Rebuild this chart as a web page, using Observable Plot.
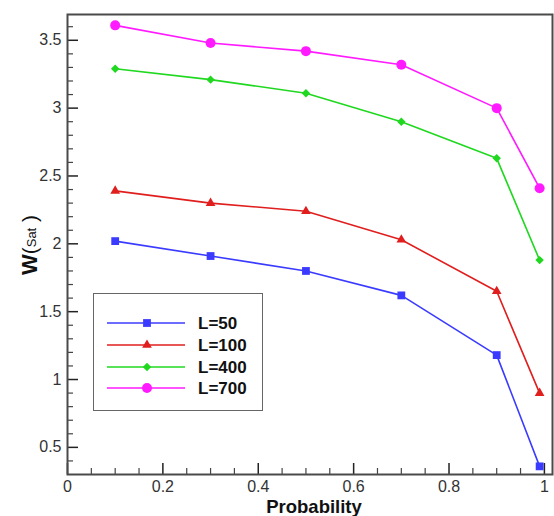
<!DOCTYPE html>
<html>
<head>
<meta charset="utf-8">
<script src="https://cdn.jsdelivr.net/npm/d3@7"></script>
<script src="https://cdn.jsdelivr.net/npm/@observablehq/plot@0.6"></script>
<style>
  html, body { margin: 0; padding: 0; background: #fff; }
  #wrap { position: relative; width: 554px; height: 516px; font-family: "Liberation Sans", Arial, sans-serif; }
  #ylabel { position: absolute; left: 30px; top: 245px; transform: translate(-50%, -50%) rotate(-90deg); white-space: nowrap; color: #111; font-family: "Liberation Sans", Arial, sans-serif; }
  #legend { position: absolute; left: 93px; top: 293px; width: 170px; height: 118px; border: 1.5px solid #666; box-sizing: border-box; background: #fff; }
</style>
</head>
<body>
<div id="wrap"></div>
<script>
// ---- data ----
const probability = [0.1, 0.3, 0.5, 0.7, 0.9, 0.99];
const seriesNames = ["L=50", "L=100", "L=400", "L=700"];
const wL50  = [2.02, 1.91, 1.80, 1.62, 1.18, 0.36];
const wL100 = [2.39, 2.30, 2.24, 2.03, 1.65, 0.90];
const wL400 = [3.29, 3.21, 3.11, 2.90, 2.63, 1.88];
const wL700 = [3.61, 3.48, 3.42, 3.32, 3.00, 2.41];
const xMajorTicks = [0, 0.2, 0.4, 0.6, 0.8, 1];
const xMajorLabels = ["0", "0.2", "0.4", "0.6", "0.8", "1"];
const xMinorTicks = [0.05,0.1,0.15,0.25,0.3,0.35,0.45,0.5,0.55,0.65,0.7,0.75,0.85,0.9,0.95];
const yMajorTicks = [0.5, 1, 1.5, 2, 2.5, 3, 3.5];
const yMajorLabels = ["0.5", "1", "1.5", "2", "2.5", "3", "3.5"];
const yMinorTicks = [0.4,0.6,0.7,0.8,0.9,1.1,1.2,1.3,1.4,1.6,1.7,1.8,1.9,2.1,2.2,2.3,2.4,2.6,2.7,2.8,2.9,3.1,3.2,3.3,3.4,3.6];

const colors = ["#3b3bff", "#e01e1e", "#1fd81f", "#ff1aff"];
const symbols = ["square", "triangle", "diamond2", "circle"];
const radii = [4.4, 3.6, 3.8, 5];

const allValues = [wL50, wL100, wL400, wL700];
const rows = [];
seriesNames.forEach((s, i) => probability.forEach((p, j) => rows.push({series: s, p, w: allValues[i][j], idx: i})));

const xFmt = d => xMajorLabels[xMajorTicks.indexOf(d)];
const yFmt = d => yMajorLabels[yMajorTicks.indexOf(d)];

const tickColor = "#333";
const chart = Plot.plot({
  width: 554,
  height: 516,
  marginLeft: 67,
  marginRight: 2,
  marginTop: 14,
  marginBottom: 42,
  style: {fontFamily: "'Liberation Sans', Arial, sans-serif", fontSize: "16px", color: tickColor, background: "#fff"},
  x: {domain: [0, 1.017], label: null},
  y: {domain: [0.3, 3.69], label: null},
  color: {domain: seriesNames, range: colors},
  symbol: {domain: seriesNames, range: symbols},
  marks: [
    Plot.axisX({ticks: xMajorTicks, tickFormat: xFmt, tickSize: 0, tickPadding: 6, fontSize: 16, fill: tickColor, label: null}),
    Plot.axisX({ticks: xMajorTicks, text: null, tickSize: -11, stroke: "#222", strokeWidth: 1.5, label: null}),
    Plot.axisX({ticks: xMinorTicks, text: null, tickSize: -6, stroke: "#444", strokeWidth: 1.2, label: null}),
    Plot.axisY({ticks: yMajorTicks, tickFormat: yFmt, tickSize: 0, tickPadding: 6, fontSize: 16, fill: tickColor, label: null}),
    Plot.axisY({ticks: yMajorTicks, text: null, tickSize: -11, stroke: "#222", strokeWidth: 1.5, label: null}),
    Plot.axisY({ticks: yMinorTicks, text: null, tickSize: -6, stroke: "#444", strokeWidth: 1.2, label: null}),
    Plot.line(rows, {x: "p", y: "w", z: "series", stroke: "series", strokeWidth: 1.6}),
    ...seriesNames.map((s, i) => Plot.dot(rows.filter(d => d.idx === i), {x: "p", y: "w", symbol: "series", fill: "series", stroke: null, r: radii[i]})),
    Plot.frame({stroke: "#4a4a4a", strokeWidth: 2}),
    Plot.text(["Probability"], {frameAnchor: "bottom", dy: 38, dx: 4, fontSize: 18.5, fontWeight: "bold", fill: "#111"})
  ]
});

const wrap = document.getElementById("wrap");
wrap.appendChild(chart);

// y label
const yl = document.createElement("div");
yl.id = "ylabel";
yl.innerHTML = '<span style="font-weight:bold;font-size:22px">W</span><span style="font-size:21px">(</span><span style="font-size:13px;position:relative;top:-1px">Sat</span><span style="font-size:21px">&nbsp;)</span>';
wrap.appendChild(yl);

// legend
const lg = document.createElement("div");
lg.id = "legend";
wrap.appendChild(lg);
const svg = d3.select(lg).append("svg").attr("width", 168).attr("height", 116);
const symMap = {square: d3.symbolSquare, triangle: d3.symbolTriangle, diamond2: d3.symbolDiamond2, circle: d3.symbolCircle};
const rowY = [30, 52, 74, 95];
seriesNames.forEach((s, i) => {
  const g = svg.append("g").attr("transform", `translate(0,${rowY[i] - 1})`);
  g.append("line").attr("x1", 13).attr("x2", 91).attr("y1", 0).attr("y2", 0).attr("stroke", colors[i]).attr("stroke-width", 1.6);
  g.append("path").attr("d", d3.symbol(symMap[symbols[i]], Math.PI * radii[i] * radii[i])()).attr("transform", "translate(53,0)").attr("fill", colors[i]);
  g.append("text").attr("x", 104).attr("y", 0).attr("dy", "0.35em").attr("font-size", 17).attr("font-weight", "bold").attr("fill", "#111").attr("font-family", "'Liberation Sans', Arial, sans-serif").text(s);
});
</script>
</body>
</html>
